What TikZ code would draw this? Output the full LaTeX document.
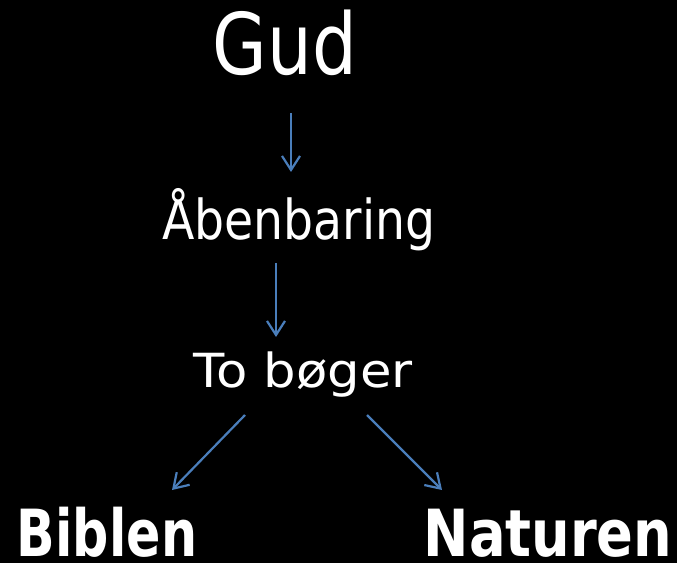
\documentclass[tikz,border=0pt]{standalone}
\usepackage{fontspec}
\setmainfont{DejaVu Sans}
\usetikzlibrary{arrows.meta}
\definecolor{arrowblue}{HTML}{4A7EBB}
\tikzset{
  lbl/.style={text=white, inner sep=0pt, anchor=base},
  arr/.style={draw=arrowblue, line width=2.2pt, -{Straight Barb[length=14pt,width=18pt,line width=2.2pt]}}
}
\begin{document}
\begin{tikzpicture}[x=1pt,y=1pt]
\fill[black] (0,0) rectangle (677,563);
\useasboundingbox (0,0) rectangle (677,563);
\node[lbl, font=\fontsize{85}{90}\selectfont] (gud) at (285,488) {\scalebox{0.83}[1]{Gud}};
\node[lbl, font=\fontsize{55}{60}\selectfont] (aab) at (299,323) {\scalebox{0.86}[1]{Åbenbaring}};
\node[lbl, font=\fontsize{47}{52}\selectfont] (to) at (303,176) {\scalebox{1.09}[1]{To bøger}};
\node[lbl, font=\bfseries\fontsize{65}{70}\selectfont] (bib) at (107,7) {\scalebox{0.78}[1]{Biblen}};
\node[lbl, font=\bfseries\fontsize{65}{70}\selectfont] (nat) at (548,7) {\scalebox{0.835}[1]{Naturen}};
\coordinate (a1s) at (291,450);
\coordinate (a1e) at (291,391);
\coordinate (a2s) at (276,300);
\coordinate (a2e) at (276,226);
\coordinate (a3s) at (245,148);
\coordinate (a3e) at (172,73);
\coordinate (a4s) at (367,148);
\coordinate (a4e) at (442,73);
\draw[arr] (a1s) -- (a1e);
\draw[arr] (a2s) -- (a2e);
\draw[arr] (a3s) -- (a3e);
\draw[arr] (a4s) -- (a4e);
\end{tikzpicture}
\end{document}
